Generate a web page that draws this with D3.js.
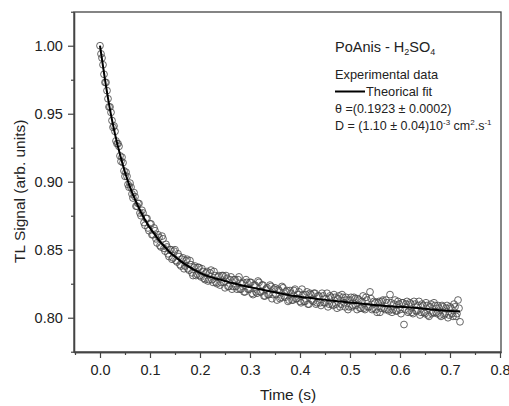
<!DOCTYPE html>
<html>
<head>
<meta charset="utf-8">
<script src="https://cdn.jsdelivr.net/npm/d3@7"></script>
<style>
  html, body { margin: 0; padding: 0; background: #fff; overflow: hidden; }
  svg { display: block; }
  svg text { font-family: "Liberation Sans", Arial, sans-serif; fill: #222; }
</style>
</head>
<body>
<div id="chart"></div>
<script>
// experimental time (s), run A, sampled every 4 ms
const expTime = [
  0.000,0.004,0.008,0.012,0.016,0.020,0.024,0.028,0.032,0.036,0.040,0.044,0.048,0.052,0.056,0.060,0.064,0.068,0.072,0.076,
  0.080,0.084,0.088,0.092,0.096,0.100,0.104,0.108,0.112,0.116,0.120,0.124,0.128,0.132,0.136,0.140,0.144,0.148,0.152,0.156,
  0.160,0.164,0.168,0.172,0.176,0.180,0.184,0.188,0.192,0.196,0.200,0.204,0.208,0.212,0.216,0.220,0.224,0.228,0.232,0.236,
  0.240,0.244,0.248,0.252,0.256,0.260,0.264,0.268,0.272,0.276,0.280,0.284,0.288,0.292,0.296,0.300,0.304,0.308,0.312,0.316,
  0.320,0.324,0.328,0.332,0.336,0.340,0.344,0.348,0.352,0.356,0.360,0.364,0.368,0.372,0.376,0.380,0.384,0.388,0.392,0.396,
  0.400,0.404,0.408,0.412,0.416,0.420,0.424,0.428,0.432,0.436,0.440,0.444,0.448,0.452,0.456,0.460,0.464,0.468,0.472,0.476,
  0.480,0.484,0.488,0.492,0.496,0.500,0.504,0.508,0.512,0.516,0.520,0.524,0.528,0.532,0.536,0.540,0.544,0.548,0.552,0.556,
  0.560,0.564,0.568,0.572,0.576,0.580,0.584,0.588,0.592,0.596,0.600,0.604,0.608,0.612,0.616,0.620,0.624,0.628,0.632,0.636,
  0.640,0.644,0.648,0.652,0.656,0.660,0.664,0.668,0.672,0.676,0.680,0.684,0.688,0.692,0.696,0.700,0.704,0.708,0.712,0.716,
  0.720
]
const expSignal = [
  1.000,0.991,0.979,0.973,0.961,0.955,0.945,0.941,0.930,0.928,0.919,0.918,0.908,0.907,0.898,0.899,0.891,0.892,0.882,0.884,
  0.877,0.879,0.870,0.873,0.866,0.869,0.861,0.866,0.858,0.861,0.853,0.860,0.851,0.854,0.847,0.850,0.843,0.849,0.842,0.847,
  0.839,0.843,0.836,0.842,0.836,0.842,0.833,0.837,0.831,0.837,0.831,0.836,0.829,0.833,0.827,0.833,0.828,0.834,0.826,0.830,
  0.824,0.831,0.826,0.831,0.823,0.828,0.821,0.828,0.823,0.828,0.821,0.825,0.819,0.828,0.821,0.826,0.818,0.824,0.819,0.827,
  0.819,0.824,0.816,0.821,0.817,0.824,0.814,0.821,0.817,0.821,0.814,0.823,0.816,0.819,0.812,0.820,0.813,0.820,0.814,0.817,
  0.812,0.821,0.812,0.817,0.810,0.818,0.813,0.818,0.810,0.816,0.811,0.818,0.811,0.814,0.808,0.816,0.810,0.817,0.810,0.814,
  0.808,0.817,0.811,0.815,0.806,0.813,0.808,0.815,0.809,0.814,0.807,0.812,0.807,0.815,0.808,0.819,0.806,0.812,0.806,0.811,
  0.804,0.812,0.807,0.813,0.806,0.817,0.804,0.810,0.805,0.812,0.806,0.811,0.795,0.810,0.804,0.811,0.804,0.812,0.805,0.809,
  0.802,0.810,0.804,0.811,0.802,0.808,0.803,0.811,0.804,0.809,0.802,0.809,0.802,0.807,0.800,0.808,0.803,0.810,0.801,0.813,
  0.797
]

// experimental time (s), run B, interleaved samples
const expTimeB = [
  0.002,0.006,0.010,0.014,0.018,0.022,0.026,0.030,0.034,0.038,0.042,0.046,0.050,0.054,0.058,0.062,0.066,0.070,0.074,0.078,
  0.082,0.086,0.090,0.094,0.098,0.102,0.106,0.110,0.114,0.118,0.122,0.126,0.130,0.134,0.138,0.142,0.146,0.150,0.154,0.158,
  0.162,0.166,0.170,0.174,0.178,0.182,0.186,0.190,0.194,0.198,0.202,0.206,0.210,0.214,0.218,0.222,0.226,0.230,0.234,0.238,
  0.242,0.246,0.250,0.254,0.258,0.262,0.266,0.270,0.274,0.278,0.282,0.286,0.290,0.294,0.298,0.302,0.306,0.310,0.314,0.318,
  0.322,0.326,0.330,0.334,0.338,0.342,0.346,0.350,0.354,0.358,0.362,0.366,0.370,0.374,0.378,0.382,0.386,0.390,0.394,0.398,
  0.402,0.406,0.410,0.414,0.418,0.422,0.426,0.430,0.434,0.438,0.442,0.446,0.450,0.454,0.458,0.462,0.466,0.470,0.474,0.478,
  0.482,0.486,0.490,0.494,0.498,0.502,0.506,0.510,0.514,0.518,0.522,0.526,0.530,0.534,0.538,0.542,0.546,0.550,0.554,0.558,
  0.562,0.566,0.570,0.574,0.578,0.582,0.586,0.590,0.594,0.598,0.602,0.606,0.610,0.614,0.618,0.622,0.626,0.630,0.634,0.638,
  0.642,0.646,0.650,0.654,0.658,0.662,0.666,0.670,0.674,0.678,0.682,0.686,0.690,0.694,0.698,0.702,0.706,0.710,0.714,0.718
]
const expSignalB = [
  0.994,0.986,0.973,0.967,0.955,0.951,0.940,0.937,0.928,0.926,0.915,0.914,0.904,0.904,0.896,0.896,0.888,0.889,0.882,0.884,
  0.875,0.877,0.868,0.873,0.864,0.869,0.861,0.864,0.855,0.859,0.852,0.858,0.849,0.852,0.845,0.850,0.844,0.850,0.841,0.845,
  0.838,0.844,0.838,0.843,0.835,0.839,0.831,0.838,0.832,0.837,0.830,0.834,0.828,0.834,0.828,0.835,0.826,0.831,0.825,0.831,
  0.826,0.831,0.822,0.829,0.823,0.830,0.823,0.828,0.821,0.830,0.821,0.826,0.819,0.826,0.821,0.826,0.817,0.824,0.818,0.826,
  0.819,0.824,0.816,0.822,0.817,0.823,0.817,0.822,0.813,0.820,0.815,0.822,0.815,0.820,0.813,0.818,0.813,0.821,0.814,0.819,
  0.811,0.817,0.812,0.819,0.810,0.817,0.812,0.818,0.811,0.816,0.809,0.816,0.811,0.818,0.810,0.815,0.809,0.815,0.807,0.816,
  0.810,0.815,0.808,0.813,0.808,0.815,0.809,0.814,0.806,0.813,0.807,0.816,0.806,0.813,0.808,0.814,0.807,0.811,0.804,0.812,
  0.807,0.813,0.806,0.811,0.805,0.811,0.806,0.813,0.805,0.810,0.803,0.811,0.806,0.812,0.805,0.810,0.803,0.810,0.805,0.812,
  0.804,0.809,0.803,0.809,0.801,0.810,0.804,0.809,0.803,0.807,0.801,0.808,0.803,0.809,0.802,0.807,0.801,0.808,0.803,0.807
]

// theoretical fit curve
const fitTime  = [0.00,0.01,0.02,0.03,0.04,0.05,0.06,0.07,0.08,0.09,0.10,0.11,0.12,0.13,0.14,0.15,0.16,0.18,0.20,0.22,0.24,0.26,0.28,0.30,0.32,0.34,0.36,0.38,0.40,0.44,0.48,0.52,0.56,0.60,0.64,0.68,0.72]
const fitValue = [1.000,0.975,0.953,0.935,0.920,0.907,0.896,0.887,0.879,0.872,0.866,0.861,0.856,0.852,0.848,0.845,0.842,0.837,0.833,0.830,0.828,0.826,0.824,0.8225,0.821,0.8195,0.818,0.8165,0.8155,0.8135,0.812,0.8105,0.809,0.808,0.807,0.8055,0.8045]

const xTicks = [0.0,0.1,0.2,0.3,0.4,0.5,0.6,0.7,0.8]
const xMinor = [-0.05,0.05,0.15,0.25,0.35,0.45,0.55,0.65,0.75]
const yTicks = [0.80,0.85,0.90,0.95,1.00]
const yMinor = [0.775,0.825,0.875,0.925,0.975,1.025]

const width = 509
const height = 406
const margin = { top: 12, right: 8, bottom: 54, left: 74 }
const innerWidth = width - margin.left - margin.right
const innerHeight = height - margin.top - margin.bottom

const svg = d3.select("#chart")
  .append("svg")
  .attr("width", width)
  .attr("height", height)

const g = svg.append("g")
  .attr("transform", `translate(${margin.left},${margin.top})`)

const xScale = d3.scaleLinear().domain([-0.052, 0.802]).range([0, innerWidth])
const yScale = d3.scaleLinear().domain([0.7748, 1.0248]).range([innerHeight, 0])

// frame
g.append("rect")
  .attr("width", innerWidth)
  .attr("height", innerHeight)
  .attr("fill", "none")
  .attr("stroke", "#444")
  .attr("stroke-width", 1.3)

// axes
const xAxis = g.append("g")
  .attr("transform", `translate(0,${innerHeight})`)
  .call(d3.axisBottom(xScale).tickValues(xTicks).tickFormat(d3.format(".1f")).tickSize(6).tickSizeOuter(0))
g.append("g")
  .attr("class", "minor")
  .attr("transform", `translate(0,${innerHeight})`)
  .call(d3.axisBottom(xScale).tickValues(xMinor).tickSize(3).tickSizeOuter(0))

const yAxis = g.append("g")
  .call(d3.axisLeft(yScale).tickValues(yTicks).tickFormat(d3.format(".2f")).tickSize(6).tickSizeOuter(0))
g.append("g")
  .attr("class", "minor")
  .call(d3.axisLeft(yScale).tickValues(yMinor).tickSize(3).tickSizeOuter(0))

g.selectAll(".minor text").remove()
g.selectAll(".domain").attr("stroke", "#444").attr("stroke-width", 1.3)
g.selectAll(".tick line").attr("stroke", "#444").attr("stroke-width", 1.2)
xAxis.selectAll("text").attr("font-size", 14.5).attr("dy", "0.97em")
yAxis.selectAll("text").attr("font-size", 14.5).attr("dx", "-0.15em")

// axis titles
svg.append("text")
  .attr("x", margin.left + xScale(0.376))
  .attr("y", 400)
  .attr("text-anchor", "middle")
  .attr("font-size", 15.5)
  .text("Time (s)")

svg.append("text")
  .attr("transform", `translate(25,${margin.top + yScale(0.893)}) rotate(-90)`)
  .attr("text-anchor", "middle")
  .attr("font-size", 15.5)
  .text("TL Signal (arb. units)")

// experimental points
const points = expTime.map((t, i) => ({ t: t, v: expSignal[i] }))
  .concat(expTimeB.map((t, i) => ({ t: t, v: expSignalB[i] })))
g.selectAll(".pt")
  .data(points)
  .enter().append("circle")
  .attr("class", "pt")
  .attr("cx", d => xScale(d.t))
  .attr("cy", d => yScale(d.v))
  .attr("r", 3.4)
  .attr("fill", "none")
  .attr("stroke", "#4a4a4a")
  .attr("stroke-width", 0.85)

// fit line
const line = d3.line()
  .x((d, i) => xScale(fitTime[i]))
  .y(d => yScale(d))
  .curve(d3.curveMonotoneX)

g.append("path")
  .datum(fitValue)
  .attr("d", line)
  .attr("fill", "none")
  .attr("stroke", "#000")
  .attr("stroke-width", 2)

// legend / annotations
const leg = svg.append("g").attr("transform", "translate(335,0)")

const title = leg.append("text").attr("y", 52).attr("font-size", 14.5)
title.append("tspan").text("PoAnis - H")
title.append("tspan").attr("font-size", 9).attr("dy", 3).text("2")
title.append("tspan").attr("dy", -3).text("SO")
title.append("tspan").attr("font-size", 9).attr("dy", 3).text("4")

leg.append("text").attr("y", 79).attr("font-size", 12.8).text("Experimental  data")

leg.append("line")
  .attr("x1", 0).attr("x2", 30)
  .attr("y1", 91.5).attr("y2", 91.5)
  .attr("stroke", "#000").attr("stroke-width", 2)
leg.append("text").attr("x", 31).attr("y", 96).attr("font-size", 12.8).text("Theorical fit")

leg.append("text").attr("y", 113).attr("font-size", 12.5).text("\u03b8 =(0.1923 \u00b1 0.0002)")

const dText = leg.append("text").attr("y", 130).attr("font-size", 12.5)
dText.append("tspan").text("D = (1.10 \u00b1 0.04)10")
dText.append("tspan").attr("font-size", 8).attr("dy", -5).text("-3")
dText.append("tspan").attr("dy", 5).text(" cm")
dText.append("tspan").attr("font-size", 8).attr("dy", -5).text("2")
dText.append("tspan").attr("dy", 5).text(".s")
dText.append("tspan").attr("font-size", 8).attr("dy", -5).text("-1")
</script>
</body>
</html>
